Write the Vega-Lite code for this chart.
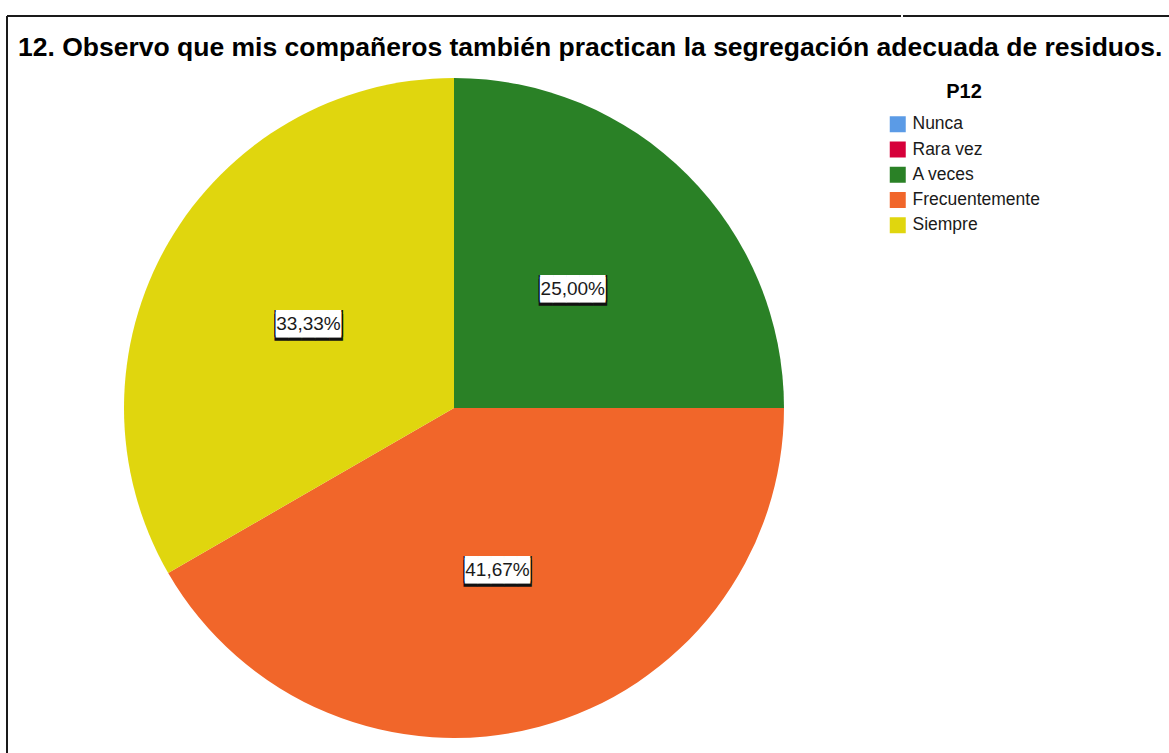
{
  "$schema": "https://vega.github.io/schema/vega-lite/v6.json",
  "padding": {"left": 6, "top": 15, "right": 0, "bottom": 0},
  "background": "white",
  "title": {
    "text": "12. Observo que mis compañeros también practican la segregación adecuada de residuos.",
    "anchor": "start",
    "frame": "group",
    "orient": "top",
    "offset": -67,
    "baseline": "alphabetic",
    "dx": 11,
    "font": "Liberation Sans",
    "fontSize": 26.5,
    "fontWeight": "bold",
    "color": "#000000"
  },
  "data": {
    "values": [
      {"categoria": "Nunca", "porcentaje": 0, "etiqueta": "0,00%"},
      {"categoria": "Rara vez", "porcentaje": 0, "etiqueta": "0,00%"},
      {"categoria": "A veces", "porcentaje": 25.00, "etiqueta": "25,00%"},
      {"categoria": "Frecuentemente", "porcentaje": 41.67, "etiqueta": "41,67%"},
      {"categoria": "Siempre", "porcentaje": 33.33, "etiqueta": "33,33%"}
    ]
  },
  "spacing": 0,
  "hconcat": [
    {
      "width": 894,
      "height": 784,
      "view": {"stroke": "#1a1a1a", "strokeWidth": 2, "strokeDash": [894, 1678, 784, 0]},
      "layer": [
        {
          "mark": {"type": "arc", "outerRadius": 330},
          "encoding": {
            "theta": {"field": "porcentaje", "type": "quantitative", "stack": true},
            "color": {
              "field": "categoria",
              "type": "nominal",
              "sort": ["Nunca", "Rara vez", "A veces", "Frecuentemente", "Siempre"],
              "scale": {
                "domain": ["Nunca", "Rara vez", "A veces", "Frecuentemente", "Siempre"],
                "range": ["#5b9be6", "#d6003a", "#2a8126", "#f1662a", "#e0d60e"]
              },
              "legend": {
                "title": "P12",
                "orient": "none",
                "legendX": 882,
                "legendY": 65.5,
                "padding": 0,
                "symbolType": "square",
                "symbolSize": 256,
                "symbolStrokeWidth": 0,
                "labelFont": "Liberation Sans",
                "labelFontSize": 17.5,
                "labelColor": "#1a1a1a",
                "labelOffset": 6,
                "labelLimit": 300,
                "titleFont": "Liberation Sans",
                "titleFontSize": 20,
                "titleFontWeight": "bold",
                "titleColor": "#000000",
                "titleAnchor": "middle",
                "titlePadding": 14,
                "rowPadding": 6.25
              }
            }
          }
        },
        {
          "transform": [{"filter": "datum.porcentaje > 0"}],
          "mark": {"type": "text", "text": ["█████", "█████"], "lineHeight": 3.9, "font": "DejaVu Sans Mono", "fontSize": 22.6, "color": "#111111", "align": "center", "baseline": "middle", "radius": 168},
          "encoding": {
            "theta": {"field": "porcentaje", "type": "quantitative", "stack": true},
            "order": {"field": "categoria", "sort": "ascending"}
          }
        },
        {
          "transform": [{"filter": "datum.porcentaje > 0"}],
          "mark": {"type": "text", "text": ["█████", "█████"], "lineHeight": 2.1, "font": "DejaVu Sans Mono", "fontSize": 21.6, "color": "#ffffff", "align": "center", "baseline": "middle", "radius": 168},
          "encoding": {
            "theta": {"field": "porcentaje", "type": "quantitative", "stack": true},
            "order": {"field": "categoria", "sort": "ascending"}
          }
        },
        {
          "transform": [{"filter": "datum.porcentaje > 0"}],
          "mark": {"type": "text", "font": "Liberation Sans", "fontSize": 19, "color": "#1a1a1a", "align": "center", "baseline": "middle", "radius": 168},
          "encoding": {
            "theta": {"field": "porcentaje", "type": "quantitative", "stack": true},
            "order": {"field": "categoria", "sort": "ascending"},
            "text": {"field": "etiqueta", "type": "nominal"}
          }
        }
      ]
    },
    {
      "width": 266,
      "height": 784,
      "view": {"stroke": "#1a1a1a", "strokeWidth": 2, "strokeDash": [266, 1834]},
      "mark": {"type": "text", "text": ""},
      "encoding": {}
    }
  ]
}
